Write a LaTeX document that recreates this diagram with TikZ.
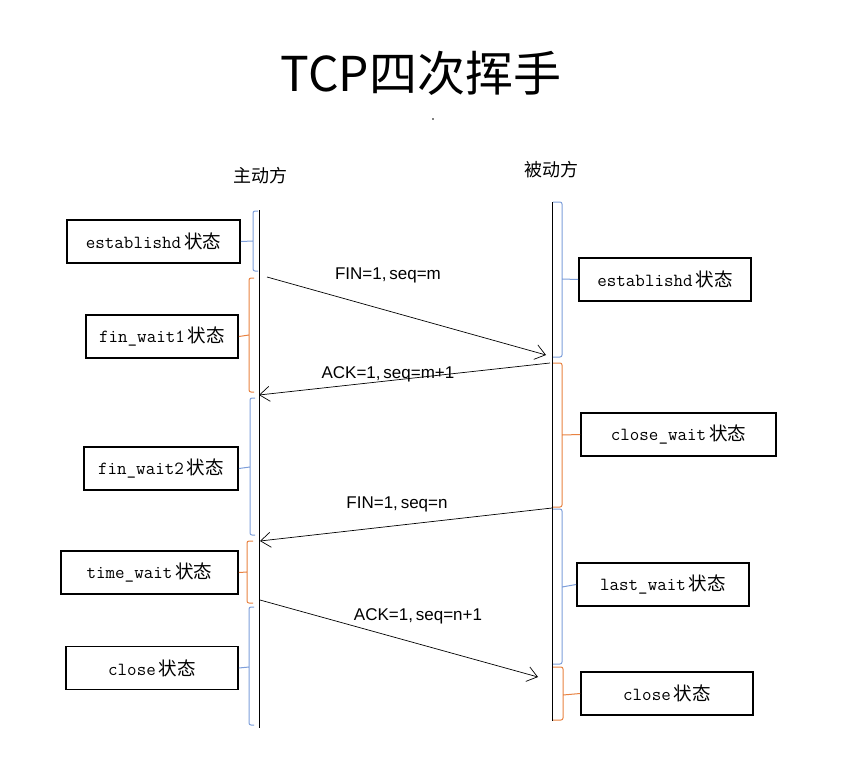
\documentclass[tikz,border=0pt]{standalone}
\usepackage{fontspec}
\newfontfamily\cjk{Noto Sans CJK SC}
\newfontfamily\arial{Liberation Sans}
\usetikzlibrary{arrows.meta}
\newcommand{\zt}[1]{{\ttfamily #1}\hspace{3pt}{\cjk 状态}}

\begin{document}
\begin{tikzpicture}[x=1pt,y=-1pt,
   statebox/.style={draw,line width=1.8pt,minimum height=43pt,inner sep=0pt,font=\fontsize{18.5}{20}\selectfont},
   msg/.style={-{Straight Barb[length=10pt,width=15pt]},line width=0.7pt},
   msglabel/.style={font=\arial\fontsize{17}{20}\selectfont},
   brace/.style={draw=#1,line width=1pt,rounded corners=2pt}]
   \definecolor{braceblue}{RGB}{125,158,218}
   \definecolor{braceorange}{RGB}{232,130,65}
   \useasboundingbox (0,0) rectangle (848,768);

   % title and sides
   \node (title) at (421,73) {\cjk\fontsize{48}{52}\selectfont TCP四次挥手};
   \fill (433,119) circle (0.8);
   \node (active) at (260,176) {\cjk\fontsize{18}{20}\selectfont 主动方};
   \node (passive) at (551,170) {\cjk\fontsize{18}{20}\selectfont 被动方};

   % lifelines
   \draw[line width=0.9pt] (259,210) coordinate (Atop) -- (259,728) coordinate (Abot);
   \draw[line width=0.9pt] (552,202) coordinate (Btop) -- (552,721) coordinate (Bbot);

   % states of the active side
   \node[statebox,minimum width=173pt] (ls1) at (153.5,241.5) {\zt{establishd}};
   \node[statebox,minimum width=152pt] (ls2) at (162,336.5)   {\zt{fin\_wait1}};
   \node[statebox,minimum width=154pt] (ls3) at (161,468.5)   {\zt{fin\_wait2}};
   \node[statebox,minimum width=177pt] (ls4) at (149.5,572.5) {\zt{time\_wait}};
   \node[statebox,minimum width=172pt] (ls5) at (152,668)     {\zt{close}};

   % states of the passive side
   \node[statebox,minimum width=172pt] (rs1) at (665,279.5)   {\zt{establishd}};
   \node[statebox,minimum width=195pt] (rs2) at (678.5,434.5) {\zt{close\_wait}};
   \node[statebox,minimum width=172pt] (rs3) at (663,584.5)   {\zt{last\_wait}};
   \node[statebox,minimum width=172pt] (rs4) at (667,693.5)   {\zt{close}};

   % brackets
   \draw[brace=braceblue]   (258,211) -- (253,211) -- (253,271) -- (258,271) (253,241) -- (ls1.east);
   \draw[brace=braceorange] (254,278) -- (249,278) -- (249,392) -- (254,392) (249,335) -- (ls2.east);
   \draw[brace=braceblue]   (255,398) -- (250,398) -- (250,535) -- (255,535) (250,467) -- (ls3.east);
   \draw[brace=braceorange] (253,541) -- (247,541) -- (247,603) -- (253,603) (247,572) -- (ls4.east);
   \draw[brace=braceblue]   (254,607) -- (249,607) -- (249,725) -- (254,725) (249,667) -- (ls5.east);
   \draw[brace=braceblue]   (553,202) -- (562,202) -- (562,357) -- (553,357) (562,279) -- (rs1.west);
   \draw[brace=braceorange] (553,363) -- (562,363) -- (562,507) -- (553,507) (562,435) -- (rs2.west);
   \draw[brace=braceblue]   (553,509) -- (562,509) -- (562,664) -- (553,664) (562,587) -- (rs3.west);
   \draw[brace=braceorange] (553,667) -- (563,667) -- (563,720) -- (553,720) (563,695) -- (rs4.west);

   % messages
   \coordinate (a1) at (267,277);  \coordinate (b1) at (546,355);
   \coordinate (b2) at (550,363);  \coordinate (a2) at (259,395);
   \coordinate (b3) at (552,508);  \coordinate (a3) at (260,541);
   \coordinate (a4) at (260,600);  \coordinate (b4) at (538,677);
   \draw[msg] (a1) -- (b1);
   \draw[msg] (b2) -- (a2);
   \draw[msg] (b3) -- (a3);
   \draw[msg] (a4) -- (b4);
   \node[msglabel] (m1) at (388,275) {FIN=1,\,seq=m};
   \node[msglabel] (m2) at (388,374) {ACK=1,\,seq=m+1};
   \node[msglabel] (m3) at (397,504) {FIN=1,\,seq=n};
   \node[msglabel] (m4) at (418,616) {ACK=1,\,seq=n+1};
\end{tikzpicture}
\end{document}
